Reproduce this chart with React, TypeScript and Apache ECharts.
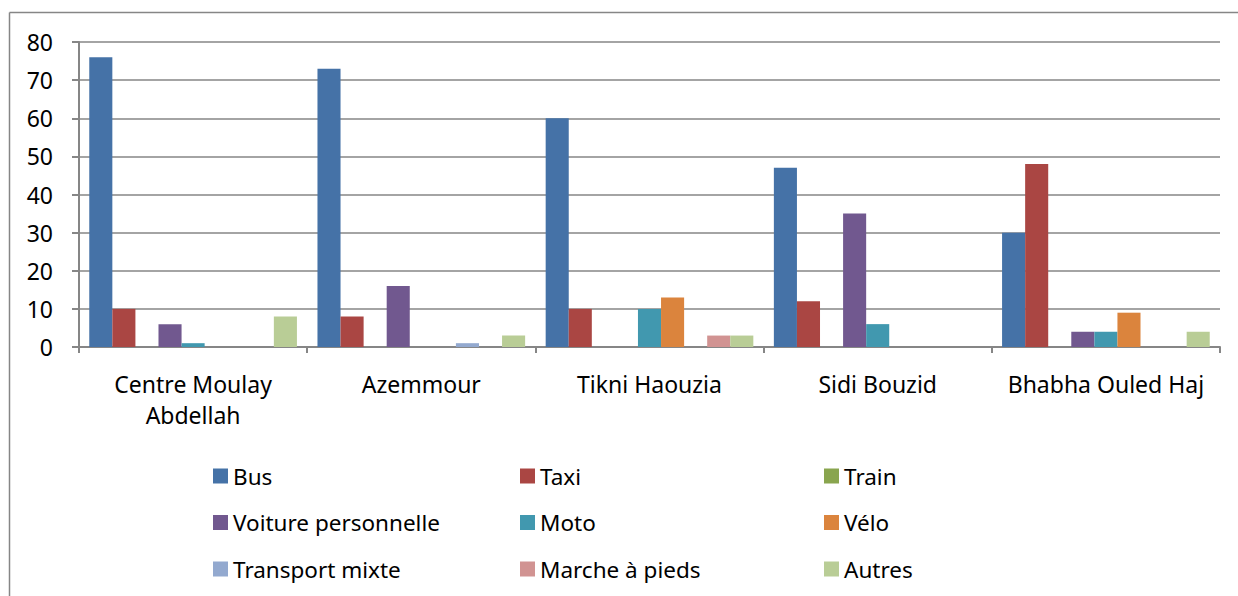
import React, { useEffect, useRef } from "react";
import * as echarts from "echarts";

const categories = ["Centre Moulay\nAbdellah", "Azemmour", "Tikni Haouzia", "Sidi Bouzid", "Bhabha Ouled Haj"];
const seriesNames = ["Bus", "Taxi", "Train", "Voiture personnelle", "Moto", "Vélo", "Transport mixte", "Marche à pieds", "Autres"];
const bus = [76, 73, 60, 47, 30];
const taxi = [10, 8, 10, 12, 48];
const train = [0, 0, 0, 0, 0];
const voiture = [6, 16, 0, 35, 4];
const moto = [1, 0, 10, 6, 4];
const velo = [0, 0, 13, 0, 9];
const transportMixte = [0, 1, 0, 0, 0];
const marche = [0, 0, 3, 0, 0];
const autres = [8, 3, 3, 0, 4];
const colors = ["#4572A7", "#AA4643", "#89A54E", "#71588F", "#4198AF", "#DB843D", "#93A9CF", "#D19392", "#B9CD96"];
const yTicks = [0, 10, 20, 30, 40, 50, 60, 70, 80];

const FONT = "Noto Sans";

export default function App() {
  const ref = useRef<HTMLDivElement>(null);
  useEffect(() => {
    const chart = echarts.init(ref.current!, null, { renderer: "svg" });
    const values = [bus, taxi, train, voiture, moto, velo, transportMixte, marche, autres];
    const legendCommon = {
      orient: "vertical",
      itemWidth: 15,
      itemHeight: 15,
      itemGap: 22.5,
      itemSymbolGap: 7,
      icon: "rect",
      textStyle: { fontFamily: FONT, fontSize: 22.5, lineHeight: 24, color: "#000" },
      top: 464,
      padding: 0,
    };
    chart.setOption({
      animation: false,
      color: colors,
      grid: { left: 79, right: 18, top: 42, bottom: 249 },
      legend: [
        { ...legendCommon, left: 213, data: [seriesNames[0], seriesNames[3], seriesNames[6]] },
        { ...legendCommon, left: 520, data: [seriesNames[1], seriesNames[4], seriesNames[7]] },
        { ...legendCommon, left: 824, data: [seriesNames[2], seriesNames[5], seriesNames[8]] },
      ],
      xAxis: {
        type: "category",
        data: categories,
        axisLine: { lineStyle: { color: "#868686", width: 2 } },
        axisTick: { show: true, interval: 0, length: 6, lineStyle: { color: "#868686", width: 2 } },
        axisLabel: { interval: 0, fontFamily: FONT, fontSize: 23, color: "#000", margin: 21, lineHeight: 31 },
      },
      yAxis: {
        type: "value",
        min: 0,
        max: 80,
        interval: 10,
        axisLine: { show: true, lineStyle: { color: "#868686", width: 2 } },
        axisTick: { show: true, length: 7, lineStyle: { color: "#868686", width: 2 } },
        axisLabel: {
          fontFamily: FONT,
          fontSize: 23,
          color: "#000",
          margin: 26,
          formatter: (v: number) => (yTicks.includes(v) ? String(v) : ""),
        },
        splitLine: { lineStyle: { color: "#868686", width: 1.5 } },
      },
      series: seriesNames.map((name, i) => ({
        name,
        type: "bar",
        data: values[i],
        barGap: "0%",
        barCategoryGap: "9%",
        itemStyle: { color: colors[i] },
      })),
      graphic: [
        { type: "line", shape: { x1: 9.5, y1: 12.5, x2: 1238, y2: 12.5 }, style: { stroke: "#868686", lineWidth: 1.5 } },
        { type: "line", shape: { x1: 9.5, y1: 12.5, x2: 9.5, y2: 596 }, style: { stroke: "#868686", lineWidth: 1.5 } },
      ],
    });
    return () => chart.dispose();
  }, []);
  return <div ref={ref} style={{ position: "fixed", left: 0, top: 0, width: 1238, height: 596, background: "#fff" }} />;
}
